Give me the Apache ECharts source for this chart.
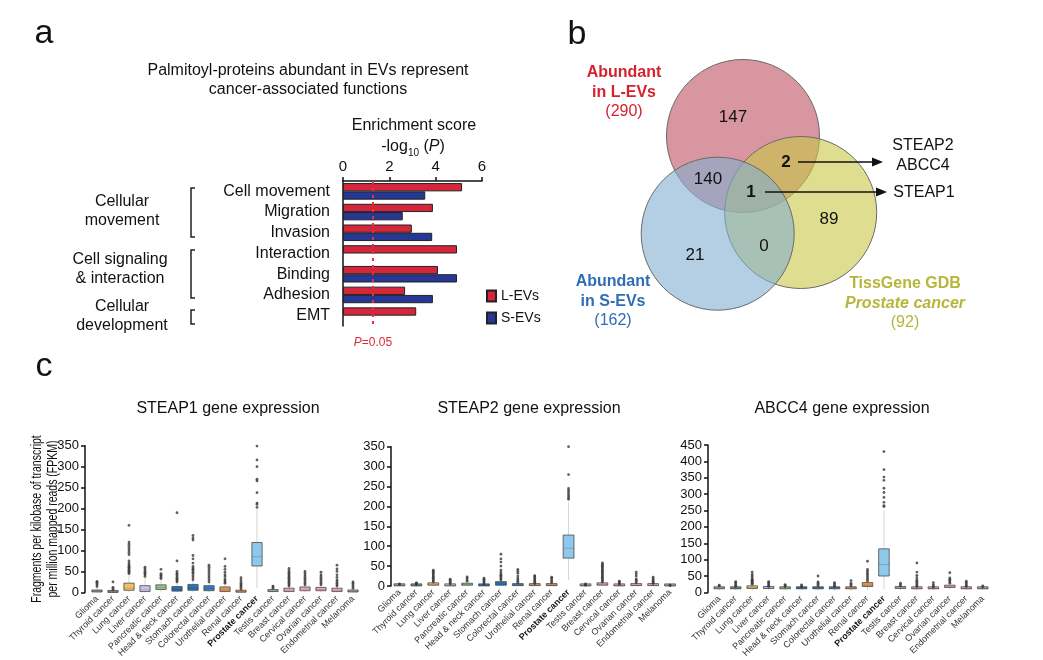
<!DOCTYPE html>
<html><head><meta charset="utf-8">
<script src="https://cdn.jsdelivr.net/npm/echarts@6/dist/echarts.min.js"></script>
<style>html,body{margin:0;padding:0;background:#fff}#c{width:1043px;height:660px}</style>
</head><body><div id="c"></div>
<script>
const FONT = '"Liberation Sans", Arial, Helvetica, sans-serif';

// ---------- Panel a data ----------
const functionCategories = ['Cell movement', 'Migration', 'Invasion', 'Interaction', 'Binding', 'Adhesion', 'EMT'];
const lEVsScores = [5.14, 3.88, 2.97, 4.92, 4.10, 2.68, 3.16];
const sEVsScores = [3.55, 2.58, 3.85, null, 4.92, 3.88, null];
const enrichTicks = [0, 2, 4, 6];
const pThreshold = 1.30; // -log10(0.05)
const functionGroups = ['Cellular\nmovement', 'Cell signaling\n& interaction', 'Cellular\ndevelopment'];

// ---------- Panel b data ----------
const vennSetLabels = ['Abundant\nin L-EVs', 'Abundant\nin S-EVs', 'TissGene GDB\nProstate cancer'];
const vennSetSizes = [290, 162, 92];
const vennRegionNames = ['L only', 'L∩S', 'L∩P', 'L∩S∩P', 'P only', 'S only', 'S∩P'];
const vennRegionCounts = [147, 140, 2, 1, 89, 21, 0];
const vennGeneLists = [['STEAP2', 'ABCC4'], ['STEAP1']];

// ---------- Panel c data ----------
const cancerTypes = ['Glioma', 'Thyroid cancer', 'Lung cancer', 'Liver cancer', 'Pancreatic cancer',
  'Head & neck cancer', 'Stomach cancer', 'Colorectal cancer', 'Urothelial cancer', 'Renal cancer',
  'Prostate cancer', 'Testis cancer', 'Breast cancer', 'Cervical cancer', 'Ovarian cancer',
  'Endometrial cancer', 'Melanoma'];
const steap1Ticks = [0, 50, 100, 150, 200, 250, 300, 350];
const steap2Ticks = [0, 50, 100, 150, 200, 250, 300, 350];
const abcc4Ticks = [0, 50, 100, 150, 200, 250, 300, 350, 400, 450];
// [min, Q1, median, Q3, max]
const steap1Box = [[0,1,3,5,12],[0,0,0.5,2,5],[0,5,10,22,45],[0,2,6,16,37],[0,7,12,18,32],
  [0,3,7,14,24],[0,5,10,19,29],[0,4,9,16,24],[0,2,6,13,21],[0,0.5,1.5,4,7],
  [10,63,85,119,200],[0,2,3.5,6,9],[0,2,5,10,14],[0,4,8,13,17],[0,4,7,12,17],[0,2,5,10,14],[0,1,2.5,5,9]];
const steap1Outliers = [[14,18,21,24,26],[6,9,12,25],
  [45,47,50,52,55,58,60,63,66,70,75,90,95,100,105,110,115,120,160],[38,42,45,48,52,56,60],
  [33,36,40,42,45,55],[25,28,30,33,36,40,43,46,50,75,190],
  [30,35,40,45,48,52,55,58,62,70,80,88,125,130,136],[25,30,35,40,45,50,55,60,65],
  [22,25,28,32,38,42,48,55,62,80],[8,12,15,18,21,25,30,35],
  [203,210,213,238,266,270,300,316,349],[10,13,15],
  [15,18,21,24,27,30,33,36,39,42,45,48,52,57],[18,22,26,30,34,38,42,46,50],
  [18,22,26,30,34,38,42,48],[15,18,22,26,30,36,42,50,56,65],[10,14,18,22,25]];
const steap2Box = [[0,0.5,1,2,3],[0,0.3,1,2,2.5],[0,2,4,8,9],[0,0.3,1,2,4],[0,2,4,7,11],
  [0,0.3,1,2,4],[0,2,5,11,14],[0,1,2,4,7],[0,1,2,4,5],[0,1,2,4,7],
  [15,70,95,128,210],[0,0.3,0.8,1.5,2],[0,2,4,8,9],[0,0.3,1,2,3],[0,1,2,4,7],[0,1,2,4,5],[0,0.2,0.5,1,1]];
const steap2Outliers = [[4,5],[3,5,7,8],[10,13,16,19,22,25,28,31,34,37,40],[5,8,11,14,17],
  [12,16,20,23],[5,8,11,14,17,20],[15,18,21,24,27,30,35,40,50,60,68,80],
  [8,12,16,20,25,32,37,42],[6,9,12,15,18,21,24,26],[8,12,16,20,22],
  [218,222,226,230,235,240,245,280,350,375],[2,3,5],
  [10,13,16,19,22,25,28,31,34,37,40,43,46,49,52,55,58],[4,7,10,12],[8,12,15,18,25,30,35],
  [6,9,12,15,18,22],[1,2]];
const abcc4Box = [[5,11,13,15,17],[6,11,12,13,17],[5,12,15,20,24],[6,12,13,16,17],[6,11,13,15,17],
  [6,11,13,15,16],[5,11,13,16,19],[5,11,13,16,17],[5,11,14,17,19],[6,18,22,30,34],
  [10,50,85,133,250],[6,12,14,17,19],[5,11,12,14,17],[6,11,12,14,15],[8,15,18,22,27],
  [6,11,12,14,17],[6,11,12,14,16]];
const abcc4Outliers = [[20,22],[18,22,26,30,33],[25,28,31,34,37,40,45,50,55,62],[18,22,26,30,33],
  [18,21,24],[17,20,23],[20,24,28,32,50],[18,22,26,30],[20,24,28,36],
  [35,40,45,50,55,60,65,70,95],[262,265,275,290,305,318,342,352,375,430],[20,24,28],
  [18,22,26,30,34,38,45,52,62,90],[16,20,24,30],[28,32,36,40,44,60],[18,22,26,30,34],[17,20]];

// ---------- styles / layout (not data) ----------
const cancerColors = ['#8fb3a0','#7d8b99','#eec16a','#c9c3e6','#94c68b','#2c6fb3','#2a73b8','#3a7dbe',
  '#e59a56','#e8964c','#8ec8ea','#9db3c9','#e9a9c5','#eaaecb','#e6a6c4','#e8aac8','#c9a59a'];
const vennCircleLayout = [[183, 116, 76.5], [240.7, 192.5, 76], [157.7, 213.7, 76.5]]; // drawn order: L, P, S
const vennCircleFills = ['rgba(188,80,97,0.6)', 'rgba(200,198,70,0.6)', 'rgba(130,175,208,0.6)'];
const vennCountLayout = [[173, 97], [148, 159], [226, 142], [191, 172], [269, 199], [135, 235], [204, 226]];
const vennCountBold = [false, false, true, true, false, false, false];
const vennArrowLayout = [[238, 142, 323, 142], [205, 172, 327, 172]];
const vennGeneLayout = [[363, 136], [364, 173]];
const vennSetLabelLayout = [[64, 72.5], [53, 281.5], [345, 283.5]];
const vennSetColors = ['#d2232f', '#2f6db5', '#b7b53c'];

const chart = echarts.init(document.getElementById('c'));

function boxRenderer(params, api) {
  const i = api.value(0);
  const pMin = api.coord([i, api.value(1)]);
  const pQ1 = api.coord([i, api.value(2)]);
  const pMed = api.coord([i, api.value(3)]);
  const pQ3 = api.coord([i, api.value(4)]);
  const pMax = api.coord([i, api.value(5)]);
  const w = api.size([1, 0])[0] * 0.64;
  const x = pQ1[0];
  const h = Math.max(pQ1[1] - pQ3[1], 2);
  return { type: 'group', children: [
    { type: 'line', shape: { x1: x, y1: pMax[1], x2: x, y2: pQ3[1] }, style: { stroke: '#d5d5d5', lineWidth: 1 } },
    { type: 'line', shape: { x1: x, y1: pQ1[1], x2: x, y2: pMin[1] }, style: { stroke: '#d5d5d5', lineWidth: 1 } },
    { type: 'rect', shape: { x: x - w / 2, y: pQ1[1] - h, width: w, height: h },
      style: { fill: cancerColors[i], stroke: '#4a4a4a', lineWidth: 0.8 } },
    { type: 'line', shape: { x1: x - w / 2, y1: pMed[1], x2: x + w / 2, y2: pMed[1] },
      style: { stroke: 'rgba(0,0,0,0.2)', lineWidth: 0.8 } }
  ]};
}

function boxSeries(box, outliers, gi) {
  const pts = [];
  outliers.forEach((arr, i) => arr.forEach(v => pts.push([i, v])));
  return [
    { type: 'custom', xAxisIndex: gi, yAxisIndex: gi, renderItem: boxRenderer,
      encode: { x: 0, y: [1, 2, 3, 4, 5] },
      data: box.map((b, i) => [i].concat(b)), z: 2 },
    { type: 'scatter', xAxisIndex: gi, yAxisIndex: gi, symbolSize: 2.8, silent: true,
      itemStyle: { color: '#3a3a3a' }, data: pts, z: 3 }
  ];
}

function catAxis(gi) {
  return { gridIndex: gi, type: 'category', data: cancerTypes,
    axisLine: { show: false }, axisTick: { show: false },
    axisLabel: { interval: 0, rotate: 45, fontSize: 9, color: '#333', margin: 5,
      formatter: v => v === 'Prostate cancer' ? '{b|' + v + '}' : v,
      rich: { b: { fontWeight: 'bold', fontSize: 9, color: '#111' } } } };
}
function valAxis(gi, ticks, offset) {
  return { gridIndex: gi, type: 'value', min: ticks[0], max: ticks[ticks.length - 1],
    interval: ticks[1] - ticks[0], offset: offset,
    axisLine: { show: true, lineStyle: { color: '#111', width: 1.5 } },
    axisTick: { show: true, length: 4, lineStyle: { color: '#111', width: 1.5 } },
    axisLabel: { fontSize: 13, color: '#111', margin: 6 }, splitLine: { show: false } };
}

const txt = (x, y, text, extra) => ({ type: 'text', x, y, silent: true,
  style: Object.assign({ text, fill: '#111', font: '16px ' + FONT, align: 'center', verticalAlign: 'middle' }, extra || {}) });

const option = {
  animation: false,
  backgroundColor: '#fff',
  textStyle: { fontFamily: FONT },
  grid: [
    { left: 343, top: 181, width: 139, height: 145 },
    { left: 560, top: 20, width: 440, height: 320 },
    { left: 89, top: 445.7, width: 272, height: 147 },
    { left: 391, top: 446.7, width: 287.5, height: 139.3 },
    { left: 711, top: 445, width: 280, height: 148.5 }
  ],
  legend: { data: ['L-EVs', 'S-EVs'], orient: 'vertical', left: 481, top: 284, itemWidth: 9, itemHeight: 11,
    itemGap: 8, icon: 'rect', selectedMode: false, textStyle: { fontSize: 14, color: '#111', fontFamily: FONT } },
  xAxis: [
    { gridIndex: 0, type: 'value', position: 'top', min: enrichTicks[0], max: enrichTicks[enrichTicks.length - 1],
      interval: enrichTicks[1] - enrichTicks[0],
      axisLine: { show: true, lineStyle: { color: '#111', width: 1.5 } },
      axisTick: { show: true, length: 4, lineStyle: { color: '#111', width: 1.5 } },
      axisLabel: { fontSize: 15, color: '#111', margin: 7 }, splitLine: { show: false } },
    { gridIndex: 1, type: 'value', min: 0, max: 440, show: false },
    catAxis(2), catAxis(3), catAxis(4)
  ],
  yAxis: [
    { gridIndex: 0, type: 'category', data: functionCategories, inverse: true,
      axisLine: { show: true, lineStyle: { color: '#111', width: 1.5 } }, axisTick: { show: false },
      axisLabel: { interval: 0, fontSize: 16, color: '#111', margin: 13 } },
    { gridIndex: 1, type: 'value', min: 0, max: 320, inverse: true, show: false },
    valAxis(2, steap1Ticks, 4), valAxis(3, steap2Ticks, 0), valAxis(4, abcc4Ticks, 3)
  ],
  series: [
    { name: 'L-EVs', type: 'bar', xAxisIndex: 0, yAxisIndex: 0, data: lEVsScores, barGap: '0%', barCategoryGap: '20%',
      itemStyle: { color: '#d6263b', borderColor: '#222', borderWidth: 1 },
      markLine: { silent: true, symbol: ['none', 'none'], label: { show: false },
        lineStyle: { color: '#e23340', type: [3, 4], width: 2 }, data: [{ xAxis: pThreshold }] } },
    { name: 'S-EVs', type: 'bar', xAxisIndex: 0, yAxisIndex: 0, data: sEVsScores,
      itemStyle: { color: '#263894', borderColor: '#222', borderWidth: 1 } },
    // Venn circles
    { type: 'custom', xAxisIndex: 1, yAxisIndex: 1, silent: true,
      data: vennCircleLayout.map((c, i) => [c[0], c[1], c[2], i]),
      renderItem: (p, api) => {
        const c = api.coord([api.value(0), api.value(1)]);
        const r = api.size([api.value(2), 0])[0];
        return { type: 'circle', shape: { cx: c[0], cy: c[1], r },
          style: { fill: vennCircleFills[api.value(3)], stroke: '#6a6a6a', lineWidth: 1 } };
      } },
    // Venn region counts
    { type: 'custom', xAxisIndex: 1, yAxisIndex: 1, silent: true, z: 5,
      data: vennRegionCounts.map((n, i) => [vennCountLayout[i][0], vennCountLayout[i][1], n, i]),
      renderItem: (p, api) => {
        const c = api.coord([api.value(0), api.value(1)]);
        const i = api.value(3);
        return { type: 'text', x: c[0], y: c[1], style: { text: String(api.value(2)), fill: '#111',
          font: (vennCountBold[i] ? 'bold ' : '') + '17px ' + FONT, align: 'center', verticalAlign: 'middle' } };
      } },
    // arrows + gene names
    { type: 'custom', xAxisIndex: 1, yAxisIndex: 1, silent: true, z: 5,
      data: vennArrowLayout.map((a, i) => a.concat([i])),
      renderItem: (p, api) => {
        const s = api.coord([api.value(0), api.value(1)]);
        const e = api.coord([api.value(2), api.value(3)]);
        const i = api.value(4);
        const g = api.coord(vennGeneLayout[i]);
        return { type: 'group', children: [
          { type: 'line', shape: { x1: s[0], y1: s[1], x2: e[0] - 8, y2: e[1] }, style: { stroke: '#111', lineWidth: 1.3 } },
          { type: 'polygon', shape: { points: [[e[0], e[1]], [e[0] - 11, e[1] - 4.5], [e[0] - 11, e[1] + 4.5]] }, style: { fill: '#111' } },
          { type: 'text', x: g[0], y: g[1], style: { text: vennGeneLists[i].join('\n'), fill: '#111', font: '16px ' + FONT,
            lineHeight: 20, align: 'center', verticalAlign: 'middle' } }
        ]};
      } },
    // set labels
    { type: 'custom', xAxisIndex: 1, yAxisIndex: 1, silent: true, z: 5,
      data: vennSetSizes.map((n, i) => [vennSetLabelLayout[i][0], vennSetLabelLayout[i][1], n, i]),
      renderItem: (p, api) => {
        const c = api.coord([api.value(0), api.value(1)]);
        const i = api.value(3);
        const lines = vennSetLabels[i].split('\n');
        const t = '{b|' + lines[0] + '}\n{' + (i === 2 ? 'bi' : 'b') + '|' + lines[1] + '}\n{n|(' + api.value(2) + ')}';
        const col = vennSetColors[i];
        return { type: 'text', x: c[0], y: c[1], style: { text: t, align: 'center', verticalAlign: 'middle',
          rich: { b: { fontWeight: 'bold', fontSize: 16, fill: col, color: col, lineHeight: 19.5, fontFamily: FONT },
                  bi: { fontWeight: 'bold', fontStyle: 'italic', fontSize: 16, fill: col, color: col, lineHeight: 19.5, fontFamily: FONT },
                  n: { fontSize: 16, fill: col, color: col, lineHeight: 19.5, fontFamily: FONT } } } };
      } },
    ...boxSeries(steap1Box, steap1Outliers, 2),
    ...boxSeries(steap2Box, steap2Outliers, 3),
    ...boxSeries(abcc4Box, abcc4Outliers, 4)
  ],
  graphic: [
    txt(44, 34, 'a', { font: '34px ' + FONT }),
    txt(577, 35, 'b', { font: '34px ' + FONT }),
    txt(44, 367, 'c', { font: '34px ' + FONT }),
    txt(308, 80, 'Palmitoyl-proteins abundant in EVs represent\ncancer-associated functions', { lineHeight: 18.6 }),
    txt(414, 126, 'Enrichment score'),
    txt(413, 147, '-log{s|10} ({i|P})', { rich: {
      s: { fontSize: 10, fontFamily: FONT, verticalAlign: 'bottom', lineHeight: 22 },
      i: { fontSize: 16, fontStyle: 'italic', fontFamily: FONT, lineHeight: 22 } }, lineHeight: 22 }),
    txt(373, 343, '{i|P}=0.05', { fill: '#d92a36', font: '12px ' + FONT,
      rich: { i: { fontStyle: 'italic', fontSize: 12, fontFamily: FONT, fill: '#d92a36', color: '#d92a36' } } }),
    txt(122, 211.5, functionGroups[0], { lineHeight: 19 }),
    txt(120, 269.5, functionGroups[1], { lineHeight: 19 }),
    txt(122, 316, functionGroups[2], { lineHeight: 19 }),
    { type: 'polyline', silent: true, shape: { points: [[195, 188], [191, 188], [191, 237], [195, 237]] }, style: { stroke: '#222', lineWidth: 1.5, fill: null } },
    { type: 'polyline', silent: true, shape: { points: [[195, 250], [191, 250], [191, 298], [195, 298]] }, style: { stroke: '#222', lineWidth: 1.5, fill: null } },
    { type: 'polyline', silent: true, shape: { points: [[195, 310], [191, 310], [191, 324], [195, 324]] }, style: { stroke: '#222', lineWidth: 1.5, fill: null } },
    txt(228, 409, 'STEAP1 gene expression'),
    txt(529, 409, 'STEAP2 gene expression'),
    txt(842, 409, 'ABCC4 gene expression'),
    { type: 'text', silent: true, x: 45, y: 519, rotation: Math.PI / 2, scaleX: 0.75,
      style: { text: 'Fragments per kilobase of transcript\nper million mapped reads (FPKM)', fill: '#111',
        font: '14px ' + FONT, lineHeight: 16.5, align: 'center', verticalAlign: 'middle' } }
  ]
};
chart.setOption(option);
</script></body></html>
